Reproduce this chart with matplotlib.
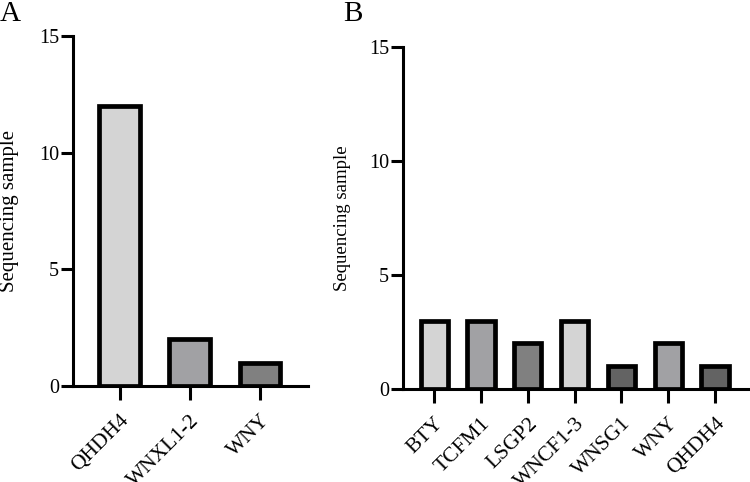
import matplotlib
matplotlib.use("Agg")
import matplotlib.pyplot as plt

plt.rcParams["font.family"] = ["Liberation Serif", "DejaVu Serif"]

# panel A
a_labels = ["QHDH4", "WNXL1-2", "WNY"]
a_values = [12, 2, 1]
a_colors = ["#d4d4d4", "#a1a1a4", "#808080"]

# panel B
b_labels = ["BTY", "TCFM1", "LSGP2", "WNCF1-3", "WNSG1", "WNY", "QHDH4"]
b_values = [3, 3, 2, 3, 1, 2, 1]
b_colors = ["#d4d4d4", "#a1a1a4", "#808080", "#d4d4d4", "#636363", "#a1a1a4", "#636363"]

y_ticks = [0, 5, 10, 15]


def draw_panel(ax, labels, values, colors, xmax, label_size, label_x):
    x = list(range(len(labels)))
    ax.bar(x, values, width=0.58, color=colors, edgecolor="black", linewidth=3.4, zorder=3)
    ax.set_xlim(-0.67, xmax)
    ax.set_ylim(0, 15)
    ax.set_yticks(y_ticks)
    ax.set_xticks(x)
    ax.set_xticklabels(labels, rotation=45, ha="right", rotation_mode="anchor", fontsize=15.5)
    ax.tick_params(axis="y", direction="out", length=9, width=2.2, labelsize=14.5, pad=1)
    ax.tick_params(axis="x", direction="out", length=10, width=2.2, pad=8)
    for side in ("top", "right"):
        ax.spines[side].set_visible(False)
    for side in ("left", "bottom"):
        ax.spines[side].set_linewidth(2.2)
    ax.set_ylabel("Sequencing sample", fontsize=label_size)
    ax.yaxis.set_label_coords(label_x, 0.5)


fig = plt.figure(figsize=(7.5, 4.82), dpi=100)
ax_a = fig.add_axes([0.097, 0.199, 0.314, 0.726])
ax_b = fig.add_axes([0.537, 0.193, 0.46, 0.709])

draw_panel(ax_a, a_labels, a_values, a_colors, 2.69, 15, -0.23)
draw_panel(ax_b, b_labels, b_values, b_colors, 6.7, 13.5, -0.15)

fig.text(0.0, 0.998, "A", fontsize=21, va="top", ha="left")
fig.text(0.458, 0.998, "B", fontsize=21, va="top", ha="left")

fig.savefig("out.png", dpi=100)
